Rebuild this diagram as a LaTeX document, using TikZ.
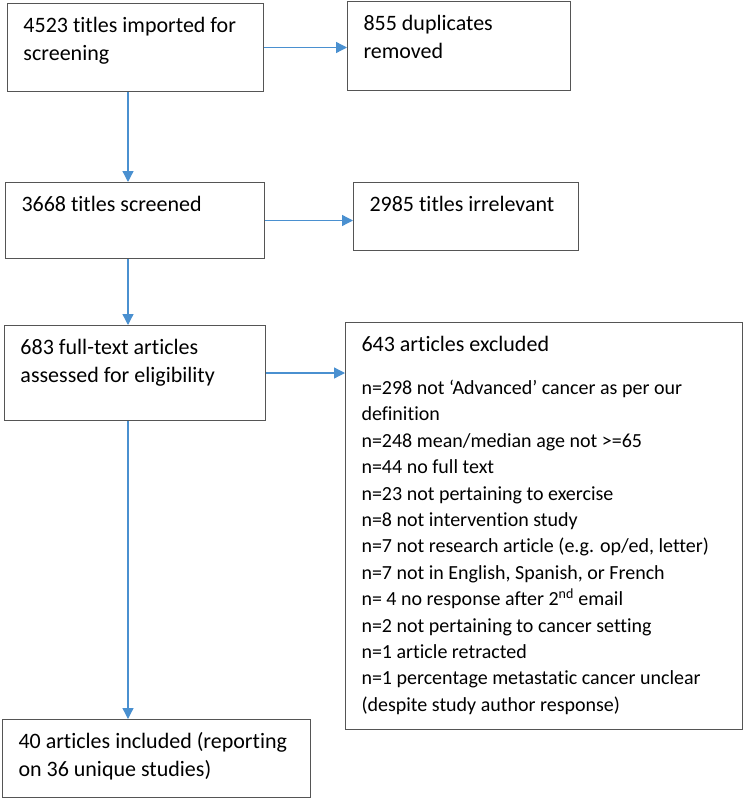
\documentclass[tikz,border=0pt]{standalone}
\usepackage{fontspec}
\setmainfont{Carlito}[Ligatures=NoCommon]
\usetikzlibrary{calc,positioning,arrows.meta}
\definecolor{boxgray}{RGB}{85,85,85}
\definecolor{flowblue}{RGB}{74,144,208}
\tikzset{flow chart/.style={
    x=1pt,y=-1pt,
    >={Triangle[length=11pt,width=11pt]},
    every node/.style={
        draw=boxgray,
        line width=1pt,
        inner sep=0pt,
        anchor=north west,
        font=\fontsize{22}{28.5}\selectfont,
    },
    flow/.style={->,draw=flowblue,line width=1.3pt},
}}
% width, height, text of one box
\newcommand{\boxtext}[3]{\parbox[t][#2pt][t]{#1pt}{\raggedright\leftskip=16pt\vspace*{9pt}\strut#3}}

\begin{document}
\begin{tikzpicture}[flow chart]
    \useasboundingbox (0,0) rectangle (744,800);
    \coordinate (spine) at (128,0);

    \node (imported) at (7,3) {\boxtext{256}{88}{4523 titles imported for\\screening}};
    \node (duplicates) at (347,1) {\boxtext{223}{89}{855 duplicates\\removed}};
    \node (screened) at (5,182) {\boxtext{259}{76}{3668 titles screened}};
    \node (irrelevant) at (353,182) {\boxtext{225}{68}{2985 titles irrelevant}};
    \node (fulltext) at (4,325) {\boxtext{261}{95}{683 full-text articles\\assessed for eligibility}};
    \node (excluded) at (345,322) {\boxtext{397}{407}{643 articles excluded\par
        \vspace{16.6pt}\fontsize{20}{26.4}\selectfont
        n=298 not ‘Advanced’ cancer as per our\\
        definition\\
        n=248 mean/median age not >=65\\
        n=44 no full text\\
        n=23 not pertaining to exercise\\
        n=8 not intervention study\\
        n=7 not research article (e.g. op/ed, letter)\\
        n=7 not in English, Spanish, or French\\
        n= 4 no response after 2\textsuperscript{nd} email\\
        n=2 not pertaining to cancer setting\\
        n=1 article retracted\\
        n=1 percentage metastatic cancer unclear\\
        (despite study author response)}};
    \node (included) at (2,719) {\boxtext{308}{78}{40 articles included (reporting\\on 36 unique studies)}};

    \draw[flow] (imported.east) -- (imported.east -| duplicates.west);
    \draw[flow] (screened.east) -- (screened.east -| irrelevant.west);
    \draw[flow] (fulltext.east) -- (fulltext.east -| excluded.west);
    \draw[flow] (imported.south -| spine) -- (screened.north -| spine);
    \draw[flow] (screened.south -| spine) -- (fulltext.north -| spine);
    \draw[flow] (fulltext.south -| spine) -- (included.north -| spine);
\end{tikzpicture}
\end{document}
